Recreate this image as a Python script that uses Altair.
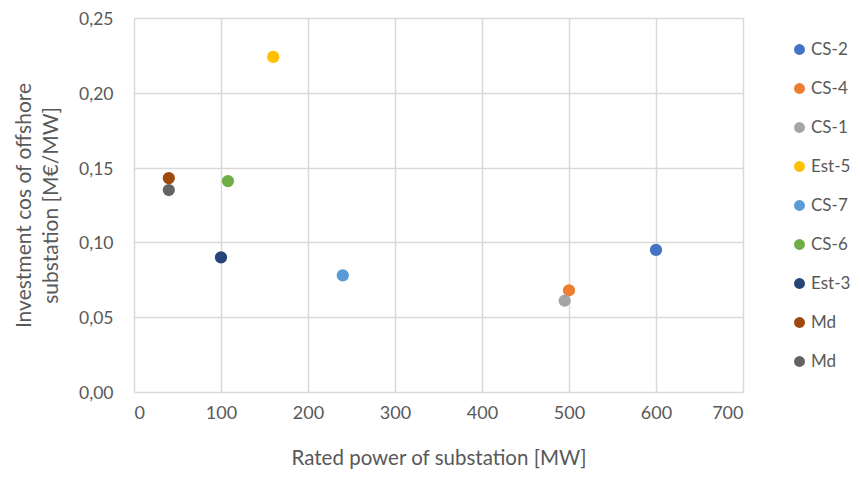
import altair as alt
import pandas as pd

keys = ["CS-2", "CS-4", "CS-1", "Est-5", "CS-7", "CS-6", "Est-3", "Md_a", "Md_b"]
labels = ["CS-2", "CS-4", "CS-1", "Est-5", "CS-7", "CS-6", "Est-3", "Md", "Md"]
power = [600, 500, 495, 160, 240, 108, 100, 40, 40]
cost = [0.095, 0.068, 0.061, 0.224, 0.078, 0.141, 0.090, 0.143, 0.135]
colors = ["#4472C4", "#ED7D31", "#A5A5A5", "#FFC000", "#5B9BD5", "#70AD47", "#264478", "#9E480E", "#636363"]

df = pd.DataFrame({"key": keys, "label": labels, "power": power, "cost": cost})

label_expr = "replace(datum.label, /_[ab]$/, '')"
font = "Lato"
gray = "#595959"

chart = alt.Chart(df).mark_circle(size=150, opacity=1).encode(
    x=alt.X("power:Q", scale=alt.Scale(domain=[0, 700], nice=False),
            axis=alt.Axis(values=[0, 100, 200, 300, 400, 500, 600, 700],
                          title="Rated power of substation [MW]",
                          titlePadding=26, labelPadding=12, titleFontSize=20.5)),
    y=alt.Y("cost:Q", scale=alt.Scale(domain=[0, 0.25], nice=False),
            axis=alt.Axis(values=[0, 0.05, 0.10, 0.15, 0.20, 0.25],
                          labelExpr="replace(format(datum.value, '.2f'), '.', ',')",
                          title=["Investment cos of offshore", "substation [M€/MW]"],
                          titlePadding=17, labelPadding=21, titleLineHeight=27,
                          labelFontSize=17.5, labelOffset=1.5)),
    color=alt.Color("key:N", scale=alt.Scale(domain=keys, range=colors),
                    sort=keys,
                    legend=alt.Legend(title=None, orient="none", legendX=657, legendY=23,
                                      labelExpr=label_expr, symbolType="circle",
                                      symbolSize=120, rowPadding=21, labelFontSize=17,
                                      labelFont=font, labelColor=gray, symbolStrokeWidth=0,
                                      labelOffset=3)),
).properties(
    width=609, height=374,
    autosize=alt.AutoSizeParams(type="none"),
    padding={"left": 126, "top": 10, "right": 109, "bottom": 78},
).configure_axis(
    domain=False, ticks=False, tickSize=0, grid=True, gridColor="#D9D9D9", gridWidth=1.5,
    labelFont=font, labelFontSize=18, labelColor=gray,
    titleFont=font, titleFontSize=21, titleColor=gray, titleFontWeight="normal",
).configure_view(stroke=None)

chart.save("out.html", embed_options={"renderer": "svg", "actions": False})
